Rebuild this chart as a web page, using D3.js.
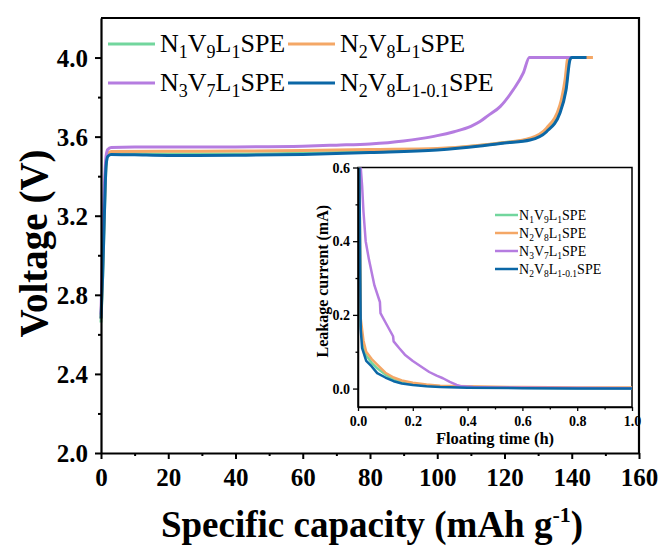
<html>
<head>
  <meta charset='utf-8' />
  <style>
    body { margin: 0; padding: 0; background: white; }
    text { font-family: 'Liberation Serif', 'Times New Roman', serif; }
  </style>
</head>
<body>
  <svg id='chart' width='662' height='550'></svg>
</body>

<script src="https://d3js.org/d3.v7.min.js"></script>

<script>
///////////////////
/// Data
///////////////////

  seriesNames = ['N_{1}V_{9}L_{1}SPE', 'N_{2}V_{8}L_{1}SPE', 'N_{3}V_{7}L_{1}SPE', 'N_{2}V_{8}L_{1-0.1}SPE']
  seriesColors = ['#72d69d', '#f4a766', '#b57ce0', '#0b67a6']

  xTicks = [0, 20, 40, 60, 80, 100, 120, 140, 160]
  yTicks = [2.0, 2.4, 2.8, 3.2, 3.6, 4.0]
  insetXTicks = [0.0, 0.2, 0.4, 0.6, 0.8, 1.0]
  insetYTicks = [0.0, 0.2, 0.4, 0.6]

  // charge curves: [capacity, voltage]
  voltN1V9 = [[0,2.66],[0.5,2.9],[1,3.2],[1.5,3.45],[2,3.505],[3,3.515],[20,3.512],[40,3.512],[60,3.516],[80,3.524],[100,3.536],[112.7,3.555],[120,3.57],[127.6,3.587],[132.5,3.63],[136.5,3.735],[138.3,3.85],[139.4,4.0],[141,4.0]]
  voltN2V8 = [[0,2.68],[0.5,2.95],[1,3.25],[1.5,3.47],[2,3.515],[3,3.525],[20,3.526],[40,3.527],[60,3.53],[80,3.535],[100,3.54],[112.7,3.556],[120,3.57],[127.6,3.592],[132.5,3.643],[136.5,3.76],[138,3.887],[138.9,4.0],[146.3,4.0]]
  voltN3V7 = [[0,2.7],[0.5,3.1],[1,3.35],[1.5,3.5],[2,3.535],[3,3.545],[10,3.548],[20,3.547],[40,3.548],[60,3.552],[70,3.557],[80,3.563],[90,3.578],[95,3.59],[100,3.605],[105,3.625],[110,3.652],[112.7,3.676],[115,3.705],[118.7,3.752],[122.6,3.837],[125.6,3.922],[127.4,4.0],[140,4.0]]
  voltN2V8b = [[0,2.68],[0.5,2.9],[1,3.2],[1.5,3.45],[2,3.5],[3,3.51],[10,3.508],[20,3.505],[40,3.506],[60,3.51],[80,3.52],[100,3.533],[112.7,3.553],[120,3.568],[127.6,3.583],[132.5,3.625],[136.5,3.72],[138.3,3.836],[139.5,3.99],[140,4.0],[144.4,4.0]]

  // leakage current: [time h, current mA]
  leakN1V9 = [[0.005,0.6],[0.01,0.17],[0.02,0.11],[0.03,0.09],[0.05,0.07],[0.07,0.055],[0.1,0.038],[0.13,0.025],[0.16,0.017],[0.2,0.012],[0.25,0.008],[0.3,0.006],[0.4,0.004],[0.6,0.002],[0.8,0.001],[1.0,0.0]]
  leakN2V8 = [[0.005,0.6],[0.01,0.19],[0.02,0.13],[0.03,0.1],[0.05,0.08],[0.07,0.065],[0.1,0.043],[0.13,0.03],[0.16,0.022],[0.2,0.016],[0.25,0.011],[0.3,0.008],[0.4,0.006],[0.6,0.004],[0.8,0.003],[1.0,0.003]]
  leakN3V7 = [[0.008,0.62],[0.015,0.55],[0.02,0.48],[0.028,0.40],[0.04,0.35],[0.06,0.28],[0.08,0.235],[0.082,0.205],[0.1,0.18],[0.128,0.142],[0.13,0.128],[0.15,0.11],[0.171,0.092],[0.2,0.075],[0.238,0.056],[0.26,0.045],[0.287,0.035],[0.31,0.028],[0.335,0.018],[0.36,0.01],[0.378,0.006],[0.42,0.004],[0.5,0.003],[0.7,0.002],[1.0,0.001]]
  leakN2V8b = [[0.005,0.6],[0.01,0.16],[0.015,0.11],[0.03,0.075],[0.05,0.06],[0.07,0.042],[0.1,0.03],[0.13,0.02],[0.16,0.014],[0.2,0.01],[0.25,0.006],[0.3,0.004],[0.4,0.002],[0.6,0.001],[0.8,0.0],[1.0,0.0]]

  voltSeries = [voltN1V9, voltN2V8, voltN3V7, voltN2V8b]
  leakSeries = [leakN1V9, leakN2V8, leakN3V7, leakN2V8b]

///////////////////
/// Helpers
///////////////////

  // write "N_{1}V_{9}" style labels with subscripts
  function richText(sel, str, size, subSize) {
    const parts = str.split(/(_\{[^}]*\})/).filter(s => s.length)
    const shift = size * 0.22
    let lowered = false
    parts.forEach(p => {
      if (p.startsWith('_{')) {
        sel.append('tspan').attr('font-size', subSize).attr('dy', shift).text(p.slice(2, -1))
        lowered = true
      } else {
        sel.append('tspan').attr('font-size', size).attr('dy', lowered ? -shift : 0).text(p)
        lowered = false
      }
    })
  }

  svg = d3.select('#chart')

///////////////////
/// Main plot
///////////////////

  const mLeft = 101, mRight = 639, mTop = 18, mBottom = 453

  scaleX = d3.scaleLinear().domain([0, 160]).range([mLeft, mRight])
  scaleY = d3.scaleLinear().domain([2.0, 4.2]).range([mBottom, mTop])

  main = svg.append('g').attr('id', 'main')

  line = d3.line().x(d => scaleX(d[0])).y(d => scaleY(d[1])).curve(d3.curveMonotoneX)

  main.selectAll('.vcurve')
    .data(voltSeries)
    .enter().append('path')
    .attr('class', 'vcurve')
    .attr('d', line)
    .attr('fill', 'none')
    .attr('stroke', (d, i) => seriesColors[i])
    .attr('stroke-width', 3)
    .attr('stroke-linejoin', 'round')

  // axes
  xAxis = main.append('g').attr('transform', `translate(0,${mBottom})`)
    .call(d3.axisBottom(scaleX).tickValues(xTicks).tickSize(6).tickSizeOuter(0).tickFormat(d3.format('d')))
  main.append('g').attr('transform', `translate(0,${mBottom})`)
    .call(d3.axisBottom(scaleX).tickValues(d3.range(10, 160, 20)).tickSize(3).tickSizeOuter(0).tickFormat(''))
    .select('.domain').remove()
  yAxis = main.append('g').attr('transform', `translate(${mLeft},0)`)
    .call(d3.axisLeft(scaleY).tickValues(yTicks).tickSize(6).tickSizeOuter(0).tickFormat(d3.format('.1f')))
  main.append('g').attr('transform', `translate(${mLeft},0)`)
    .call(d3.axisLeft(scaleY).tickValues([2.2, 2.6, 3.0, 3.4, 3.8]).tickSize(3).tickSizeOuter(0).tickFormat(''))
    .select('.domain').remove()

  main.selectAll('.domain').attr('stroke-width', 2.2)
  main.selectAll('.tick line').attr('stroke-width', 2)
  xAxis.selectAll('text').attr('font-size', 25).attr('font-weight', 'bold')
    .attr('font-family', 'Liberation Serif').attr('dy', '0.85em').attr('y', 12)
  yAxis.selectAll('text').attr('font-size', 25).attr('font-weight', 'bold')
    .attr('font-family', 'Liberation Serif').attr('x', -13).attr('dy', '0.34em')

  // axis titles
  svg.append('text')
    .attr('transform', `translate(47,${(mTop + mBottom) / 2 + 8}) rotate(-90)`)
    .attr('text-anchor', 'middle')
    .attr('font-size', 39).attr('font-weight', 'bold')
    .text('Voltage (V)')

  xt = svg.append('text')
    .attr('x', 372).attr('y', 537)
    .attr('text-anchor', 'middle')
    .attr('font-size', 37).attr('font-weight', 'bold')
  xt.append('tspan').text('Specific capacity (mAh g')
  xt.append('tspan').attr('font-size', 22).attr('dy', -15).text('-1')
  xt.append('tspan').attr('dy', 15).text(')')

  // legend
  legendPos = [[108, 44], [288, 44], [108, 83], [288, 83]]
  leg = main.selectAll('.leg')
    .data(seriesNames)
    .enter().append('g')
    .attr('class', 'leg')
    .attr('transform', (d, i) => `translate(${legendPos[i][0]},${legendPos[i][1]})`)
  leg.append('line')
    .attr('x1', 0).attr('x2', 47).attr('y1', 0).attr('y2', 0)
    .attr('stroke', (d, i) => seriesColors[i]).attr('stroke-width', 3)
  leg.append('text')
    .attr('x', 52).attr('y', 8)
    .attr('font-size', 26)
    .each(function (d) { richText(d3.select(this), d, 26, 18) })

///////////////////
/// Inset
///////////////////

  const iLeft = 358, iRight = 632, iTop = 167.5, iBottom = 407

  scaleXIn = d3.scaleLinear().domain([0, 1]).range([iLeft, iRight])
  scaleYIn = d3.scaleLinear().domain([-0.05, 0.6]).range([iBottom, iTop])

  inset = svg.append('g').attr('id', 'inset')

  inset.append('rect')
    .attr('x', iLeft).attr('y', iTop).attr('width', iRight - iLeft).attr('height', iBottom - iTop)
    .attr('fill', 'white').attr('stroke', 'black').attr('stroke-width', 1.5)

  inset.append('clipPath').attr('id', 'insetClip')
    .append('rect')
    .attr('x', iLeft).attr('y', iTop).attr('width', iRight - iLeft).attr('height', iBottom - iTop)

  lineIn = d3.line().x(d => scaleXIn(d[0])).y(d => scaleYIn(d[1]))

  inset.append('g').attr('clip-path', 'url(#insetClip)')
    .selectAll('.lcurve')
    .data(leakSeries)
    .enter().append('path')
    .attr('class', 'lcurve')
    .attr('d', lineIn)
    .attr('fill', 'none')
    .attr('stroke', (d, i) => seriesColors[i])
    .attr('stroke-width', 2.5)
    .attr('stroke-linejoin', 'round')

  ixAxis = inset.append('g').attr('transform', `translate(0,${iBottom})`)
    .call(d3.axisBottom(scaleXIn).tickValues(insetXTicks).tickSize(4).tickSizeOuter(0).tickFormat(d3.format('.1f')))
  inset.append('g').attr('transform', `translate(0,${iBottom})`)
    .call(d3.axisBottom(scaleXIn).tickValues([0.1, 0.3, 0.5, 0.7, 0.9]).tickSize(2.5).tickSizeOuter(0).tickFormat(''))
    .select('.domain').remove()
  iyAxis = inset.append('g').attr('transform', `translate(${iLeft},0)`)
    .call(d3.axisLeft(scaleYIn).tickValues(insetYTicks).tickSize(5).tickSizeOuter(0).tickFormat(d3.format('.1f')))
  inset.append('g').attr('transform', `translate(${iLeft},0)`)
    .call(d3.axisLeft(scaleYIn).tickValues([0.1, 0.3, 0.5]).tickSize(2.5).tickSizeOuter(0).tickFormat(''))
    .select('.domain').remove()

  inset.selectAll('.domain').attr('stroke-width', 1.5)
  inset.selectAll('.tick line').attr('stroke-width', 1.3)
  ixAxis.selectAll('text').attr('font-size', 14).attr('font-weight', 'bold')
    .attr('font-family', 'Liberation Serif').attr('y', 8).attr('dy', '0.8em')
  iyAxis.selectAll('text').attr('font-size', 14).attr('font-weight', 'bold')
    .attr('font-family', 'Liberation Serif').attr('x', -8).attr('dy', '0.34em')

  svg.append('text')
    .attr('transform', `translate(328,${(iTop + 389) / 2 + 3}) rotate(-90)`)
    .attr('text-anchor', 'middle')
    .attr('font-size', 16).attr('font-weight', 'bold')
    .text('Leakage current (mA)')

  svg.append('text')
    .attr('x', 495).attr('y', 444)
    .attr('text-anchor', 'middle')
    .attr('font-size', 16.5).attr('font-weight', 'bold')
    .text('Floating time (h)')

  ileg = inset.selectAll('.ileg')
    .data(seriesNames)
    .enter().append('g')
    .attr('class', 'ileg')
    .attr('transform', (d, i) => `translate(495,${215 + i * 18})`)
  ileg.append('line')
    .attr('x1', 0).attr('x2', 23).attr('y1', 0).attr('y2', 0)
    .attr('stroke', (d, i) => seriesColors[i]).attr('stroke-width', 2.5)
  ileg.append('text')
    .attr('x', 24).attr('y', 4.5)
    .attr('font-size', 14)
    .each(function (d) { richText(d3.select(this), d, 14, 9.5) })

  // main frame top and right, drawn last so it sits over the inset edge
  svg.append('path')
    .attr('d', `M${mLeft},${mTop}H${mRight}V${mBottom}`)
    .attr('fill', 'none').attr('stroke', 'black').attr('stroke-width', 2.2)

</script>
</html>
